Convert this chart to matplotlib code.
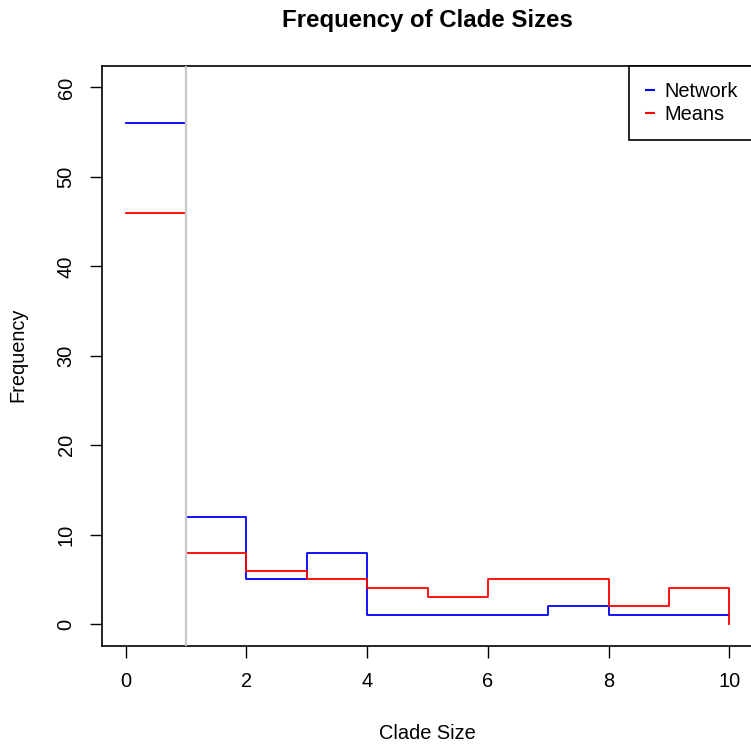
import matplotlib.pyplot as plt
from matplotlib.lines import Line2D

# clade size frequencies (step plot, R type="s")
clade_size = [0, 1, 2, 3, 4, 5, 6, 7, 8, 9, 10]
network = [56, 12, 5, 8, 1, 1, 1, 2, 1, 1, 1]
means = [46, 8, 6, 5, 4, 3, 5, 5, 2, 4, 0]
x_ticks = [0, 2, 4, 6, 8, 10]
y_ticks = [0, 10, 20, 30, 40, 50, 60]

plt.rcParams['font.family'] = ['Liberation Sans', 'DejaVu Sans']
base = 14.4

fig = plt.figure(figsize=(7.51, 7.46), dpi=100)
# right edge of the plot box sits just outside the image, as in the original
ax = fig.add_axes([101.5 / 751, 1 - 645.7 / 746, 652 / 751, 579.7 / 746])

ax.step(clade_size, network, where='post', color='#0000FF', lw=1.3)
ax.step(clade_size, means, where='post', color='#FF0000', lw=1.3)
ax.axvline(1, color='#C8C8C8', lw=1.6, zorder=5)

ax.set_xlim(-0.4, 10.4)
ax.set_ylim(-2.4, 62.4)
ax.set_xticks(x_ticks)
ax.set_yticks(y_ticks)
ax.tick_params(direction='out', length=8.6, width=1.0, labelsize=base, colors='black')
ax.tick_params(axis='x', pad=10)
ax.tick_params(axis='y', pad=10, labelrotation=90)
for lab in ax.get_yticklabels():
    lab.set_va('center')
for s in ax.spines.values():
    s.set_linewidth(1.2)
    s.set_color('black')

ax.set_title('Frequency of Clade Sizes', fontsize=base * 1.2, fontweight='bold', pad=28)
fig.text(427 / 751, 1 - 739 / 746, 'Clade Size', fontsize=base, ha='center', va='baseline')
fig.text(18 / 751, 1 - 355 / 746, 'Frequency', fontsize=base, rotation=90, ha='center', va='center')

handles = [Line2D([], [], color='#0000FF', marker='_', ls='none', markersize=7, markeredgewidth=1.5),
           Line2D([], [], color='#FF0000', marker='_', ls='none', markersize=7, markeredgewidth=1.5)]
leg = ax.legend(handles, ['Network', 'Means'], loc='upper right', borderaxespad=0,
                fontsize=base, handlelength=0.5, handletextpad=0.45, labelspacing=0.2,
                borderpad=0.8, fancybox=False, framealpha=1, edgecolor='black')
leg.get_frame().set_linewidth(1.2)

fig.savefig('out.png', dpi=100)
